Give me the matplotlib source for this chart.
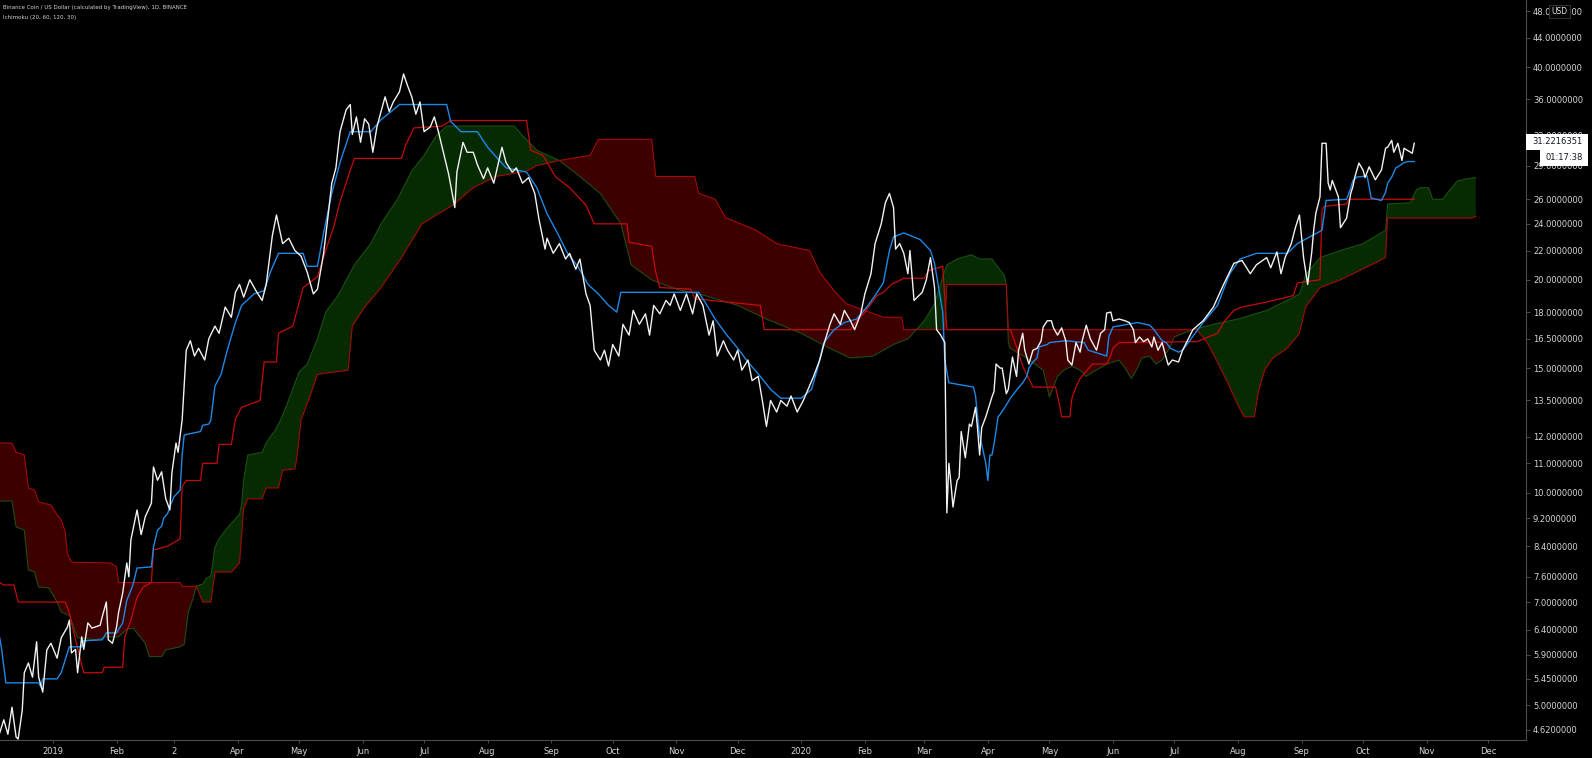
import matplotlib
matplotlib.use("Agg")
import matplotlib.pyplot as plt
import matplotlib.dates as mdates
from matplotlib.patches import Rectangle
from matplotlib.ticker import FixedLocator, FixedFormatter, NullLocator
import numpy as np

# BNB/USD daily close
price = [
    ("2018-12-06", 4.57), ("2018-12-08", 4.77), ("2018-12-10", 4.55), ("2018-12-12", 4.97),
    ("2018-12-14", 4.51), ("2018-12-15", 4.48), ("2018-12-17", 4.92), ("2018-12-18", 5.56),
    ("2018-12-20", 5.74), ("2018-12-22", 5.48), ("2018-12-24", 6.15), ("2018-12-25", 5.48),
    ("2018-12-27", 5.22), ("2018-12-29", 5.99), ("2018-12-31", 6.12), ("2019-01-03", 5.83),
    ("2019-01-05", 6.23), ("2019-01-08", 6.45), ("2019-01-09", 6.60), ("2019-01-10", 5.93),
    ("2019-01-12", 6.00), ("2019-01-13", 5.56), ("2019-01-15", 6.25), ("2019-01-16", 6.00),
    ("2019-01-18", 6.54), ("2019-01-20", 6.43), ("2019-01-24", 6.49), ("2019-01-25", 6.67),
    ("2019-01-27", 7.00), ("2019-01-28", 6.19), ("2019-01-30", 6.12), ("2019-02-01", 6.45),
    ("2019-02-02", 6.77), ("2019-02-04", 7.21), ("2019-02-06", 7.95), ("2019-02-07", 7.60),
    ("2019-02-08", 8.57), ("2019-02-11", 9.45), ("2019-02-13", 8.72), ("2019-02-15", 9.24),
    ("2019-02-18", 9.66), ("2019-02-19", 10.87), ("2019-02-21", 10.41), ("2019-02-23", 10.70),
    ("2019-02-25", 9.80), ("2019-02-27", 9.45), ("2019-02-28", 10.66), ("2019-03-02", 11.75),
    ("2019-03-03", 11.40), ("2019-03-05", 12.67), ("2019-03-07", 15.9), ("2019-03-09", 16.4),
    ("2019-03-11", 15.6), ("2019-03-13", 16.0), ("2019-03-16", 15.4), ("2019-03-18", 16.5),
    ("2019-03-21", 17.2), ("2019-03-23", 16.8), ("2019-03-26", 18.3), ("2019-03-29", 17.7),
    ("2019-03-31", 19.2), ("2019-04-02", 19.7), ("2019-04-04", 18.9), ("2019-04-07", 20.0),
    ("2019-04-10", 19.3), ("2019-04-13", 18.7), ("2019-04-15", 19.7), ("2019-04-18", 23.1),
    ("2019-04-20", 24.7), ("2019-04-23", 22.5), ("2019-04-26", 22.9), ("2019-04-29", 22.0),
    ("2019-05-02", 21.6), ("2019-05-05", 20.5), ("2019-05-08", 19.1), ("2019-05-10", 19.4),
    ("2019-05-13", 21.8), ("2019-05-15", 24.4), ("2019-05-17", 27.4), ("2019-05-19", 28.8),
    ("2019-05-21", 32.4), ("2019-05-24", 34.8), ("2019-05-26", 35.4), ("2019-05-27", 32.1),
    ("2019-05-29", 34.0), ("2019-05-31", 31.3), ("2019-06-02", 33.8), ("2019-06-04", 33.2),
    ("2019-06-06", 30.3), ("2019-06-08", 32.9), ("2019-06-10", 34.6), ("2019-06-12", 36.3),
    ("2019-06-14", 34.6), ("2019-06-16", 35.7), ("2019-06-19", 36.9), ("2019-06-21", 39.1),
    ("2019-06-23", 37.6), ("2019-06-25", 36.3), ("2019-06-27", 34.3), ("2019-06-29", 35.7),
    ("2019-07-01", 32.4), ("2019-07-04", 32.9), ("2019-07-06", 34.0), ("2019-07-08", 32.4),
    ("2019-07-11", 29.8), ("2019-07-13", 28.2), ("2019-07-16", 25.3), ("2019-07-17", 28.4),
    ("2019-07-20", 31.3), ("2019-07-22", 30.3), ("2019-07-25", 30.3), ("2019-07-27", 29.1),
    ("2019-07-30", 27.8), ("2019-08-01", 28.8), ("2019-08-04", 27.4), ("2019-08-08", 30.8),
    ("2019-08-10", 29.3), ("2019-08-13", 28.4), ("2019-08-15", 28.8), ("2019-08-18", 27.4),
    ("2019-08-21", 27.9), ("2019-08-24", 26.5), ("2019-08-26", 24.4), ("2019-08-29", 22.1),
    ("2019-08-30", 22.9), ("2019-09-02", 21.8), ("2019-09-05", 22.5), ("2019-09-08", 21.4),
    ("2019-09-10", 21.8), ("2019-09-13", 20.7), ("2019-09-15", 21.4), ("2019-09-18", 19.1),
    ("2019-09-20", 18.4), ("2019-09-22", 15.9), ("2019-09-25", 15.4), ("2019-09-27", 15.9),
    ("2019-09-29", 15.1), ("2019-10-01", 16.2), ("2019-10-04", 15.6), ("2019-10-06", 17.3),
    ("2019-10-09", 16.7), ("2019-10-11", 18.1), ("2019-10-14", 17.3), ("2019-10-17", 17.9),
    ("2019-10-19", 16.7), ("2019-10-21", 18.4), ("2019-10-24", 17.9), ("2019-10-27", 18.7),
    ("2019-10-29", 18.4), ("2019-10-31", 19.1), ("2019-11-03", 18.1), ("2019-11-06", 19.1),
    ("2019-11-09", 17.9), ("2019-11-11", 19.1), ("2019-11-14", 18.4), ("2019-11-17", 16.7),
    ("2019-11-19", 17.5), ("2019-11-21", 15.6), ("2019-11-24", 16.4), ("2019-11-26", 15.9),
    ("2019-11-29", 15.4), ("2019-12-01", 15.9), ("2019-12-03", 14.9), ("2019-12-06", 15.4),
    ("2019-12-08", 14.4), ("2019-12-11", 14.6), ("2019-12-13", 13.5), ("2019-12-15", 12.4),
    ("2019-12-17", 13.5), ("2019-12-20", 13.0), ("2019-12-22", 13.5), ("2019-12-25", 13.25),
    ("2019-12-27", 13.7), ("2019-12-30", 13.0), ("2020-01-02", 13.5), ("2020-01-05", 14.15),
    ("2020-01-07", 14.6), ("2020-01-10", 15.4), ("2020-01-12", 16.2), ("2020-01-15", 17.3),
    ("2020-01-17", 17.9), ("2020-01-20", 17.3), ("2020-01-22", 18.1), ("2020-01-25", 17.5),
    ("2020-01-27", 17.0), ("2020-01-30", 17.9), ("2020-02-01", 19.1), ("2020-02-04", 20.4),
    ("2020-02-06", 22.5), ("2020-02-09", 24.0), ("2020-02-11", 25.7), ("2020-02-13", 26.5),
    ("2020-02-15", 25.3), ("2020-02-16", 22.1), ("2020-02-18", 22.5), ("2020-02-20", 21.8),
    ("2020-02-22", 20.4), ("2020-02-23", 22.0), ("2020-02-25", 18.7), ("2020-02-29", 19.2),
    ("2020-03-02", 20.0), ("2020-03-04", 21.5), ("2020-03-06", 19.5), ("2020-03-07", 17.0),
    ("2020-03-09", 16.7), ("2020-03-11", 16.3), ("2020-03-12", 9.36), ("2020-03-13", 11.0),
    ("2020-03-14", 10.3), ("2020-03-15", 9.54), ("2020-03-17", 10.4), ("2020-03-18", 10.5),
    ("2020-03-19", 12.2), ("2020-03-21", 11.2), ("2020-03-23", 12.5), ("2020-03-24", 12.4),
    ("2020-03-26", 13.2), ("2020-03-27", 12.3), ("2020-03-28", 11.3), ("2020-03-29", 12.35),
    ("2020-03-31", 12.8), ("2020-04-03", 13.65), ("2020-04-04", 13.9), ("2020-04-05", 15.2),
    ("2020-04-07", 15.0), ("2020-04-08", 15.0), ("2020-04-10", 13.8), ("2020-04-11", 14.0),
    ("2020-04-13", 15.55), ("2020-04-15", 14.6), ("2020-04-16", 15.9), ("2020-04-18", 16.8),
    ("2020-04-19", 15.9), ("2020-04-21", 15.2), ("2020-04-23", 15.9), ("2020-04-25", 16.0),
    ("2020-04-27", 16.4), ("2020-04-28", 17.15), ("2020-04-30", 17.5), ("2020-05-02", 17.5),
    ("2020-05-03", 17.1), ("2020-05-05", 16.7), ("2020-05-07", 17.1), ("2020-05-09", 16.4),
    ("2020-05-10", 15.4), ("2020-05-12", 15.15), ("2020-05-14", 16.3), ("2020-05-16", 15.8),
    ("2020-05-17", 16.4), ("2020-05-19", 17.25), ("2020-05-21", 16.5), ("2020-05-24", 15.9),
    ("2020-05-26", 16.8), ("2020-05-28", 17.0), ("2020-05-29", 17.95), ("2020-05-31", 18.0),
    ("2020-06-01", 17.5), ("2020-06-04", 17.6), ("2020-06-07", 17.5), ("2020-06-09", 17.4),
    ("2020-06-11", 17.0), ("2020-06-12", 16.3), ("2020-06-14", 16.6), ("2020-06-16", 16.35),
    ("2020-06-18", 16.5), ("2020-06-20", 16.07), ("2020-06-21", 16.6), ("2020-06-23", 15.9),
    ("2020-06-25", 16.3), ("2020-06-27", 15.5), ("2020-06-28", 15.15), ("2020-06-30", 15.4),
    ("2020-07-03", 15.3), ("2020-07-05", 15.9), ("2020-07-10", 17.0), ("2020-07-15", 17.5),
    ("2020-07-20", 18.3), ("2020-07-25", 19.7), ("2020-07-30", 21.1), ("2020-08-03", 21.3),
    ("2020-08-07", 20.4), ("2020-08-10", 21.0), ("2020-08-15", 21.5), ("2020-08-17", 20.8),
    ("2020-08-20", 21.9), ("2020-08-22", 20.4), ("2020-08-24", 21.5), ("2020-08-27", 22.5),
    ("2020-08-29", 23.7), ("2020-08-31", 24.7), ("2020-09-02", 21.5), ("2020-09-04", 19.7),
    ("2020-09-06", 21.9), ("2020-09-07", 23.6), ("2020-09-08", 24.85), ("2020-09-10", 26.2),
    ("2020-09-11", 31.2), ("2020-09-13", 31.2), ("2020-09-14", 27.4), ("2020-09-15", 26.8),
    ("2020-09-16", 27.65), ("2020-09-19", 26.2), ("2020-09-20", 23.7), ("2020-09-23", 24.45),
    ("2020-09-25", 26.5), ("2020-09-26", 27.05), ("2020-09-27", 27.95), ("2020-09-29", 29.25),
    ("2020-10-01", 28.6), ("2020-10-02", 27.9), ("2020-10-04", 28.9), ("2020-10-07", 27.7),
    ("2020-10-10", 28.6), ("2020-10-12", 30.7), ("2020-10-13", 30.8), ("2020-10-15", 31.5),
    ("2020-10-16", 30.3), ("2020-10-18", 31.2), ("2020-10-20", 29.5), ("2020-10-21", 30.7),
    ("2020-10-25", 30.2), ("2020-10-26", 31.2),
]

# conversion line (20)
tenkan = [
    ("2018-12-06", 6.23), ("2018-12-07", 5.99), ("2018-12-09", 5.38), ("2018-12-25", 5.38),
    ("2018-12-26", 5.31), ("2018-12-27", 5.45), ("2019-01-03", 5.45), ("2019-01-05", 5.56),
    ("2019-01-08", 5.93), ("2019-01-09", 6.05), ("2019-01-15", 6.05), ("2019-01-16", 6.17),
    ("2019-01-25", 6.19), ("2019-01-27", 6.33), ("2019-02-01", 6.33), ("2019-02-04", 6.54),
    ("2019-02-06", 7.04), ("2019-02-09", 7.40), ("2019-02-11", 7.82), ("2019-02-18", 7.85),
    ("2019-02-19", 8.37), ("2019-02-21", 8.85), ("2019-02-23", 8.96), ("2019-02-24", 9.2),
    ("2019-02-26", 9.35), ("2019-02-27", 9.55), ("2019-03-01", 9.86), ("2019-03-04", 10.08),
    ("2019-03-05", 11.3), ("2019-03-06", 12.06), ("2019-03-08", 12.1), ("2019-03-14", 12.2),
    ("2019-03-15", 12.45), ("2019-03-18", 12.5), ("2019-03-19", 12.67), ("2019-03-21", 14.15),
    ("2019-03-24", 14.7), ("2019-03-27", 15.9), ("2019-03-31", 17.4), ("2019-04-03", 18.4),
    ("2019-04-09", 19.1), ("2019-04-14", 19.3), ("2019-04-17", 20.5), ("2019-04-21", 21.8),
    ("2019-05-03", 21.8), ("2019-05-05", 20.9), ("2019-05-10", 20.9), ("2019-05-13", 23.3),
    ("2019-05-17", 26.5), ("2019-05-21", 29.3), ("2019-05-26", 32.4), ("2019-06-05", 32.4),
    ("2019-06-10", 33.7), ("2019-06-15", 34.6), ("2019-06-19", 35.4), ("2019-07-12", 35.4),
    ("2019-07-14", 33.5), ("2019-07-19", 32.4), ("2019-07-27", 32.4), ("2019-08-01", 30.8),
    ("2019-08-10", 28.8), ("2019-08-20", 28.4), ("2019-08-25", 27.0), ("2019-08-30", 24.8),
    ("2019-09-04", 23.3), ("2019-09-09", 21.8), ("2019-09-14", 20.9), ("2019-09-19", 19.7),
    ("2019-09-24", 19.1), ("2019-09-29", 18.4), ("2019-10-03", 18.0), ("2019-10-05", 19.2),
    ("2019-11-12", 19.2), ("2019-11-15", 18.6), ("2019-11-20", 17.6), ("2019-11-25", 16.8),
    ("2019-12-01", 16.0), ("2019-12-06", 15.3), ("2019-12-12", 14.6), ("2019-12-17", 14.0),
    ("2019-12-22", 13.6), ("2020-01-01", 13.6), ("2020-01-06", 14.0), ("2020-01-09", 15.0),
    ("2020-01-12", 16.3), ("2020-01-17", 17.0), ("2020-01-22", 17.4), ("2020-01-28", 17.6),
    ("2020-02-02", 18.3), ("2020-02-06", 19.0), ("2020-02-10", 19.8), ("2020-02-13", 22.0),
    ("2020-02-15", 23.0), ("2020-02-20", 23.3), ("2020-02-28", 22.8), ("2020-03-04", 22.0),
    ("2020-03-06", 21.1), ("2020-03-08", 19.5), ("2020-03-10", 18.0), ("2020-03-11", 15.4),
    ("2020-03-13", 14.3), ("2020-03-25", 14.1), ("2020-03-26", 13.7), ("2020-03-28", 12.0),
    ("2020-03-29", 11.7), ("2020-03-31", 11.0), ("2020-04-01", 10.4), ("2020-04-02", 11.3),
    ("2020-04-03", 11.3), ("2020-04-04", 11.7), ("2020-04-06", 12.8), ("2020-04-07", 12.9),
    ("2020-04-10", 13.3), ("2020-04-12", 13.6), ("2020-04-15", 13.96), ("2020-04-18", 14.3),
    ("2020-04-20", 14.6), ("2020-04-21", 15.0), ("2020-04-23", 15.3), ("2020-04-25", 15.5),
    ("2020-04-26", 16.07), ("2020-04-30", 16.2), ("2020-05-01", 16.3), ("2020-05-09", 16.4),
    ("2020-05-18", 16.3), ("2020-05-20", 15.9), ("2020-05-29", 15.6), ("2020-05-30", 16.6),
    ("2020-06-01", 17.15), ("2020-06-13", 17.4), ("2020-06-19", 17.25), ("2020-06-21", 17.0),
    ("2020-06-23", 16.7), ("2020-06-25", 16.4), ("2020-06-27", 16.3), ("2020-06-29", 16.0),
    ("2020-07-03", 15.8), ("2020-07-05", 15.9), ("2020-07-15", 17.4), ("2020-07-22", 18.4),
    ("2020-07-28", 20.4), ("2020-08-02", 21.4), ("2020-08-10", 21.8), ("2020-08-25", 21.8),
    ("2020-08-30", 22.5), ("2020-09-05", 23.0), ("2020-09-11", 23.5), ("2020-09-13", 25.9),
    ("2020-09-23", 26.0), ("2020-09-25", 26.95), ("2020-09-26", 27.6), ("2020-09-28", 27.95),
    ("2020-10-03", 28.05), ("2020-10-05", 26.1), ("2020-10-10", 25.9), ("2020-10-12", 26.6),
    ("2020-10-13", 27.4), ("2020-10-15", 27.95), ("2020-10-17", 28.8), ("2020-10-18", 28.9),
    ("2020-10-21", 29.3), ("2020-10-23", 29.4), ("2020-10-26", 29.4),
]

# base line (60)
kijun = [
    ("2018-12-06", 7.46), ("2018-12-08", 7.40), ("2018-12-13", 7.40), ("2018-12-15", 7.00),
    ("2019-01-07", 7.00), ("2019-01-09", 6.75), ("2019-01-12", 6.19), ("2019-01-16", 5.56),
    ("2019-01-25", 5.56), ("2019-01-26", 5.66), ("2019-02-04", 5.66), ("2019-02-05", 6.25),
    ("2019-02-08", 6.6), ("2019-02-11", 7.11), ("2019-02-14", 7.35), ("2019-02-18", 7.46),
    ("2019-02-19", 8.29), ("2019-02-26", 8.4), ("2019-03-04", 8.6), ("2019-03-05", 10.2),
    ("2019-03-07", 10.4), ("2019-03-14", 10.4), ("2019-03-15", 11.0), ("2019-03-22", 11.0),
    ("2019-03-23", 11.7), ("2019-03-29", 11.7), ("2019-03-31", 12.7), ("2019-04-03", 13.2),
    ("2019-04-12", 13.5), ("2019-04-14", 15.3), ("2019-04-20", 15.3), ("2019-04-21", 16.8),
    ("2019-04-28", 17.2), ("2019-05-03", 19.5), ("2019-05-10", 20.2), ("2019-05-14", 22.0),
    ("2019-05-18", 23.8), ("2019-05-21", 25.8), ("2019-05-25", 28.0), ("2019-05-28", 29.7),
    ("2019-06-20", 29.7), ("2019-06-22", 31.0), ("2019-06-26", 32.8), ("2019-07-10", 33.0),
    ("2019-07-14", 33.6), ("2019-08-20", 33.6), ("2019-08-22", 30.5), ("2019-08-28", 30.0),
    ("2019-09-03", 28.0), ("2019-09-10", 27.0), ("2019-09-18", 25.5), ("2019-09-22", 24.0),
    ("2019-10-08", 24.0), ("2019-10-09", 22.6), ("2019-10-20", 22.3), ("2019-10-22", 20.5),
    ("2019-10-24", 19.5), ("2019-11-08", 19.4), ("2019-11-10", 18.8), ("2019-11-26", 18.6),
    ("2019-12-12", 18.4), ("2019-12-14", 17.0),
    ("2020-01-25", 17.0), ("2020-01-28", 17.5), ("2020-02-01", 18.0), ("2020-02-07", 19.0),
    ("2020-02-10", 19.2), ("2020-02-14", 19.7), ("2020-02-20", 20.1), ("2020-03-01", 20.1),
    ("2020-03-03", 20.6), ("2020-03-10", 20.9), ("2020-03-12", 17.0), ("2020-04-12", 17.0),
    ("2020-04-15", 16.07), ("2020-04-18", 15.1), ("2020-04-23", 14.1), ("2020-05-04", 14.1),
    ("2020-05-06", 13.3), ("2020-05-07", 12.8), ("2020-05-11", 12.8), ("2020-05-12", 13.6),
    ("2020-05-14", 14.1), ("2020-05-16", 14.5), ("2020-05-22", 15.2), ("2020-05-29", 15.2),
    ("2020-05-31", 15.65), ("2020-06-01", 16.0), ("2020-06-04", 16.3), ("2020-07-12", 16.35),
    ("2020-07-22", 16.8), ("2020-07-25", 17.4), ("2020-07-30", 18.1), ("2020-08-03", 18.3),
    ("2020-08-15", 18.6), ("2020-08-28", 19.0), ("2020-08-30", 19.8), ("2020-09-10", 20.0),
    ("2020-09-11", 25.1), ("2020-09-12", 25.4), ("2020-09-23", 25.6),
    ("2020-09-24", 26.0), ("2020-10-26", 26.0),
]

# leading span A, already shifted 30 bars forward
lead_a = [
    ("2018-12-06", 9.73), ("2018-12-12", 9.73), ("2018-12-14", 8.94), ("2018-12-18", 8.85),
    ("2018-12-20", 7.77), ("2018-12-23", 7.72), ("2018-12-25", 7.35), ("2018-12-30", 7.33),
    ("2019-01-03", 7.00), ("2019-01-05", 6.78), ("2019-01-09", 6.70), ("2019-01-13", 6.23),
    ("2019-01-22", 6.19), ("2019-01-27", 6.25), ("2019-02-02", 6.25), ("2019-02-06", 6.41),
    ("2019-02-09", 6.43), ("2019-02-11", 6.33), ("2019-02-15", 6.12), ("2019-02-17", 5.86),
    ("2019-02-23", 5.86), ("2019-02-25", 5.99), ("2019-03-04", 6.05), ("2019-03-06", 6.10),
    ("2019-03-08", 6.78), ("2019-03-10", 7.04), ("2019-03-12", 7.38), ("2019-03-15", 7.42),
    ("2019-03-17", 7.57), ("2019-03-19", 7.62), ("2019-03-21", 8.37), ("2019-03-23", 8.60),
    ("2019-03-27", 8.91), ("2019-04-02", 9.32), ("2019-04-03", 9.63), ("2019-04-04", 10.41),
    ("2019-04-06", 11.3), ("2019-04-13", 11.4), ("2019-04-15", 11.75), ("2019-04-17", 12.0),
    ("2019-04-19", 12.2), ("2019-04-22", 12.67), ("2019-04-25", 13.3), ("2019-05-01", 14.8),
    ("2019-05-05", 15.2), ("2019-05-10", 16.5), ("2019-05-14", 18.0), ("2019-05-20", 19.0),
    ("2019-05-28", 21.0), ("2019-06-05", 22.5), ("2019-06-10", 24.0), ("2019-06-18", 26.0),
    ("2019-06-25", 28.5), ("2019-07-01", 30.0), ("2019-07-07", 32.0), ("2019-07-12", 33.0),
    ("2019-08-14", 33.0), ("2019-08-18", 32.0), ("2019-08-25", 30.5), ("2019-09-05", 29.5),
    ("2019-09-15", 28.0), ("2019-09-25", 26.5), ("2019-10-05", 24.0), ("2019-10-10", 21.0),
    ("2019-10-20", 20.0), ("2019-11-01", 19.4), ("2019-11-15", 19.0), ("2019-12-01", 18.4),
    ("2019-12-15", 17.6), ("2020-01-01", 16.8), ("2020-01-15", 16.0), ("2020-01-25", 15.5),
    ("2020-02-05", 15.6), ("2020-02-15", 16.2), ("2020-02-22", 16.5), ("2020-03-01", 17.5),
    ("2020-03-06", 18.5), ("2020-03-10", 20.2), ("2020-03-12", 21.0), ("2020-03-17", 21.4),
    ("2020-03-24", 21.7), ("2020-03-28", 21.4), ("2020-04-03", 21.4), ("2020-04-05", 21.0),
    ("2020-04-09", 20.3), ("2020-04-10", 19.7), ("2020-04-11", 16.3), ("2020-04-12", 16.0),
    ("2020-04-16", 15.75), ("2020-04-20", 15.5), ("2020-04-28", 14.9), ("2020-04-30", 14.1),
    ("2020-05-01", 13.65), ("2020-05-05", 14.6), ("2020-05-08", 14.9), ("2020-05-12", 15.1),
    ("2020-05-16", 14.9), ("2020-05-19", 14.6), ("2020-05-22", 14.8), ("2020-05-29", 15.2),
    ("2020-06-01", 15.3), ("2020-06-04", 15.4), ("2020-06-07", 15.0), ("2020-06-10", 14.5),
    ("2020-06-13", 15.0), ("2020-06-15", 15.5), ("2020-06-19", 15.6), ("2020-06-22", 15.2),
    ("2020-06-25", 15.4), ("2020-06-29", 16.1), ("2020-07-01", 16.6), ("2020-07-03", 16.7),
    ("2020-07-10", 17.0), ("2020-07-20", 17.3), ("2020-08-01", 17.6), ("2020-08-15", 18.1),
    ("2020-08-25", 18.7), ("2020-08-31", 19.1), ("2020-09-03", 20.3), ("2020-09-10", 21.5),
    ("2020-09-20", 22.0), ("2020-10-01", 22.5), ("2020-10-12", 23.5), ("2020-10-13", 25.6),
    ("2020-10-24", 25.7), ("2020-10-27", 26.8), ("2020-10-29", 27.0), ("2020-11-02", 27.0),
    ("2020-11-04", 26.0), ("2020-11-09", 26.0), ("2020-11-11", 26.5), ("2020-11-16", 27.6),
    ("2020-11-21", 27.8), ("2020-11-25", 27.9),
]

# leading span B (120), shifted 30 bars forward
lead_b = [
    ("2018-12-06", 11.75), ("2018-12-12", 11.75), ("2018-12-14", 11.4), ("2018-12-18", 11.3),
    ("2018-12-20", 10.15), ("2018-12-23", 10.08), ("2018-12-25", 9.7), ("2018-12-31", 9.6),
    ("2019-01-03", 9.3), ("2019-01-05", 9.15), ("2019-01-07", 8.8), ("2019-01-08", 8.2),
    ("2019-01-10", 7.97), ("2019-01-29", 7.95), ("2019-02-01", 7.85), ("2019-02-02", 7.46),
    ("2019-03-04", 7.46), ("2019-03-05", 7.37), ("2019-03-12", 7.37), ("2019-03-15", 7.00),
    ("2019-03-19", 7.00), ("2019-03-21", 7.72), ("2019-03-29", 7.72), ("2019-04-02", 7.95),
    ("2019-04-04", 9.5), ("2019-04-06", 9.8), ("2019-04-13", 9.8), ("2019-04-15", 10.15),
    ("2019-04-21", 10.15), ("2019-04-23", 10.75), ("2019-04-29", 10.8), ("2019-04-30", 11.2),
    ("2019-05-02", 12.67), ("2019-05-06", 13.6), ("2019-05-10", 14.7), ("2019-05-25", 14.9),
    ("2019-05-27", 17.2), ("2019-06-02", 18.3), ("2019-06-10", 19.5), ("2019-06-20", 21.5),
    ("2019-06-30", 24.0), ("2019-07-08", 24.8), ("2019-07-15", 25.5), ("2019-07-25", 27.0),
    ("2019-08-05", 28.0), ("2019-08-20", 28.5), ("2019-08-25", 29.0),
    ("2019-09-05", 29.5), ("2019-09-20", 30.0), ("2019-09-24", 31.6), ("2019-10-20", 31.6),
    ("2019-10-22", 28.0), ("2019-11-10", 28.0), ("2019-11-12", 26.5), ("2019-11-20", 26.0),
    ("2019-11-25", 24.5), ("2019-12-10", 23.5), ("2019-12-20", 22.5), ("2020-01-05", 22.0),
    ("2020-01-10", 20.5), ("2020-01-17", 19.3), ("2020-01-23", 18.5), ("2020-02-10", 17.7),
    ("2020-02-19", 17.7), ("2020-02-20", 17.0), ("2020-03-11", 17.0), ("2020-03-12", 19.7),
    ("2020-04-10", 19.7), ("2020-04-11", 17.0), ("2020-07-12", 17.0), ("2020-07-17", 16.3),
    ("2020-07-22", 15.3), ("2020-07-27", 14.3), ("2020-08-01", 13.3), ("2020-08-04", 12.8),
    ("2020-08-09", 12.8), ("2020-08-11", 13.9), ("2020-08-14", 14.9), ("2020-08-18", 15.5),
    ("2020-08-25", 16.0), ("2020-08-31", 16.8), ("2020-09-03", 18.3), ("2020-09-10", 19.5),
    ("2020-09-20", 20.0), ("2020-10-05", 21.0), ("2020-10-12", 21.5),
    ("2020-10-13", 24.45), ("2020-11-23", 24.45), ("2020-11-25", 24.6),
]

yticks = [48, 44, 40, 36, 32, 29, 26, 24, 22, 20, 18, 16.5, 15, 13.5, 12, 11, 10,
          9.2, 8.4, 7.6, 7.0, 6.4, 5.9, 5.45, 5.0, 4.62]
month_labels = ["2019", "Feb", "2", "Apr", "May", "Jun", "Jul", "Aug", "Sep", "Oct", "Nov", "Dec",
                "2020", "Feb", "Mar", "Apr", "May", "Jun", "Jul", "Aug", "Sep", "Oct", "Nov", "Dec"]
last_price = "31.2216351"
countdown = "01:17:38"


def split(rows):
    d = mdates.datestr2num([r[0] for r in rows])
    v = np.array([r[1] for r in rows], dtype=float)
    return d, v


W, H = 1592, 758
fig = plt.figure(figsize=(W / 100, H / 100), dpi=100, facecolor="black")
ax = fig.add_axes([0, 18 / H, 1526 / W, 1 - 18 / H])
ax.set_facecolor("black")

pd_, pv = split(price)
td, tv = split(tenkan)
kd, kv = split(kijun)
ad, av = split(lead_a)
bd, bv = split(lead_b)

# cloud fill on the union of both span dates
grid = np.union1d(ad, bd)
ga = np.interp(grid, ad, av)
gb = np.interp(grid, bd, bv)
ax.fill_between(grid, ga, gb, where=ga >= gb, interpolate=True, color="#062a02", lw=0, zorder=1)
ax.fill_between(grid, ga, gb, where=ga < gb, interpolate=True, color="#3d0000", lw=0, zorder=1)

ax.plot(ad, av, color="#1e4d12", lw=0.8, zorder=2)
ax.plot(bd, bv, color="#a80808", lw=0.8, zorder=2)
ax.plot(kd, kv, color="#c80a0a", lw=0.9, zorder=3)
ax.plot(td, tv, color="#1e88e5", lw=1.0, zorder=4)
ax.plot(pd_, pv, color="#f2f2f2", lw=1.0, zorder=5)

ax.set_yscale("log")
ax.set_ylim(4.466, 49.76)
base = mdates.datestr2num("2019-01-01")
ax.set_xlim(base - 25.85, base + 718.5)

ax.yaxis.tick_right()
ax.yaxis.set_major_locator(FixedLocator(yticks))
ax.yaxis.set_major_formatter(FixedFormatter([f"{v:.7f}" for v in yticks]))
ax.yaxis.set_minor_locator(NullLocator())
ax.tick_params(axis="y", which="major", direction="out", length=3, width=0.6,
               colors="#555555", labelcolor="#d6d6d6", labelsize=6, pad=2)

months = mdates.datestr2num([f"{y}-{m:02d}-01" for y in (2019, 2020) for m in range(1, 13)])
ax.xaxis.set_major_locator(FixedLocator(months))
ax.xaxis.set_major_formatter(FixedFormatter(month_labels))
ax.xaxis.set_minor_locator(NullLocator())
ax.tick_params(axis="x", which="major", direction="out", length=2, width=0.6,
               colors="#555555", labelcolor="#d6d6d6", labelsize=6, pad=3)

for side in ("left", "top"):
    ax.spines[side].set_visible(False)
for side in ("right", "bottom"):
    ax.spines[side].set_color("#4d4d4d")
    ax.spines[side].set_linewidth(0.8)

fig.text(3 / W, 1 - 8 / H, "Binance Coin / US Dollar (calculated by TradingView), 1D, BINANCE",
         color="#d6d6d6", fontsize=4, va="center")
fig.text(3 / W, 1 - 17 / H, "Ichimoku (20, 60, 120, 30)", color="#d6d6d6", fontsize=4, va="center")

# last price and bar countdown tags on the price scale
fig.add_artist(Rectangle((1526 / W, 1 - 150 / H), 62 / W, 16 / H, transform=fig.transFigure,
                         facecolor="white", edgecolor="none"))
fig.text(1557 / W, 1 - 142 / H, last_price, color="#131722", fontsize=6, ha="center", va="center")
fig.add_artist(Rectangle((1540 / W, 1 - 166 / H), 48 / W, 16 / H, transform=fig.transFigure,
                         facecolor="white", edgecolor="none"))
fig.text(1564 / W, 1 - 158 / H, countdown, color="#131722", fontsize=6, ha="center", va="center")

# currency button
fig.add_artist(Rectangle((1549 / W, 1 - 18 / H), 21 / W, 13 / H, transform=fig.transFigure,
                         facecolor="#050505", edgecolor="#3a3a3a", lw=0.6))
fig.text(1559.5 / W, 1 - 11.5 / H, "USD", color="#e0e0e0", fontsize=5.5, ha="center", va="center")

fig.savefig("out.png", dpi=100, facecolor="black")
